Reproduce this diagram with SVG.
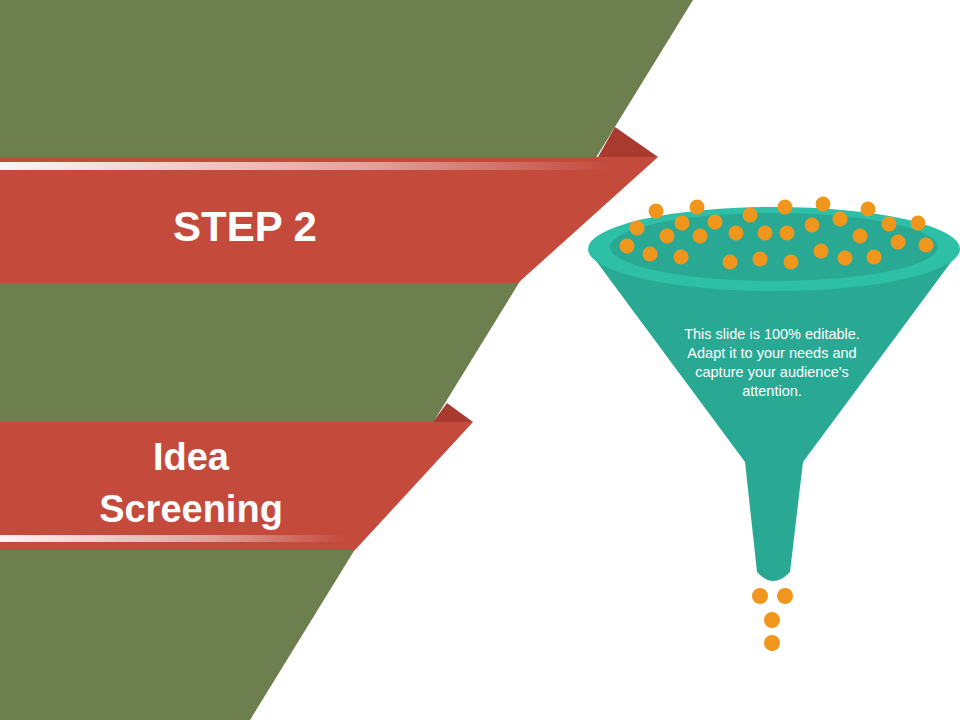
<svg xmlns="http://www.w3.org/2000/svg" width="960" height="720" viewBox="0 0 960 720">
<defs>
<linearGradient id="st" x1="0" x2="1" y1="0" y2="0"><stop offset="0" stop-color="#fff" stop-opacity="0.95"/><stop offset="0.6" stop-color="#fff" stop-opacity="0.5"/><stop offset="1" stop-color="#fff" stop-opacity="0"/></linearGradient>
<style>.d{fill:#F0961C}.w{font-family:"Liberation Sans",Arial,sans-serif;fill:#fff;text-anchor:middle}.b{font-weight:bold}</style>
</defs>
<rect width="960" height="720" fill="#fff"/>
<polygon points="0,0 693,0 250,720 0,720" fill="#6D7F4F"/>
<g id="step2">
<polygon points="598,157 615,127 658,157" fill="#A93A30"/>
<polygon points="0,157 658,157 518,283 0,283" fill="#C44A3C"/>
<rect x="0" y="162" width="610" height="8" fill="url(#st)"/>
<text class="w b" x="245" y="241" font-size="42">STEP 2</text>
</g>
<g id="idea">
<polygon points="433,422 447,403 473,422" fill="#A93A30"/>
<polygon points="0,422 473,422 355,550 0,550" fill="#C44A3C"/>
<rect x="0" y="535" width="345" height="7" fill="url(#st)"/>
<text class="w b" x="191" y="470" font-size="38">Idea</text>
<text class="w b" x="191" y="522" font-size="38">Screening</text>
</g>
<g id="funnel">
<path d="M588,250 L960,250 L803,462 L790,572 Q773,590 757,572 L745,462 Z" fill="#29A994"/>
<ellipse cx="774" cy="249" rx="186" ry="42" fill="#2DC0A7"/>
<ellipse cx="774" cy="247" rx="164" ry="34" fill="#29A994"/>
<g class="d">
<circle cx="656" cy="211" r="7.5"/><circle cx="697" cy="207" r="7.5"/><circle cx="750" cy="215" r="7.5"/><circle cx="785" cy="207" r="7.5"/><circle cx="823" cy="204" r="7.5"/><circle cx="868" cy="209" r="7.5"/><circle cx="918" cy="223" r="7.5"/><circle cx="637" cy="228" r="7.5"/><circle cx="682" cy="223" r="7.5"/><circle cx="715" cy="222" r="7.5"/><circle cx="812" cy="225" r="7.5"/><circle cx="840" cy="219" r="7.5"/><circle cx="889" cy="224" r="7.5"/><circle cx="627" cy="246" r="7.5"/><circle cx="667" cy="236" r="7.5"/><circle cx="700" cy="236" r="7.5"/><circle cx="736" cy="233" r="7.5"/><circle cx="765" cy="233" r="7.5"/><circle cx="787" cy="233" r="7.5"/><circle cx="860" cy="236" r="7.5"/><circle cx="898" cy="242" r="7.5"/><circle cx="926" cy="245" r="7.5"/><circle cx="650" cy="254" r="7.5"/><circle cx="681" cy="257" r="7.5"/><circle cx="730" cy="262" r="7.5"/><circle cx="760" cy="259" r="7.5"/><circle cx="791" cy="262" r="7.5"/><circle cx="821" cy="251" r="7.5"/><circle cx="845" cy="258" r="7.5"/><circle cx="874" cy="257" r="7.5"/>
<circle cx="760" cy="596" r="8"/><circle cx="785" cy="596" r="8"/><circle cx="772" cy="620" r="8"/><circle cx="772" cy="643" r="8"/>
</g>
<text class="w" x="772" y="339" font-size="14.5">This slide is 100% editable.</text>
<text class="w" x="772" y="358" font-size="14.5">Adapt it to your needs and</text>
<text class="w" x="772" y="377" font-size="14.5">capture your audience's</text>
<text class="w" x="772" y="396" font-size="14.5">attention.</text>
</g>
</svg>
